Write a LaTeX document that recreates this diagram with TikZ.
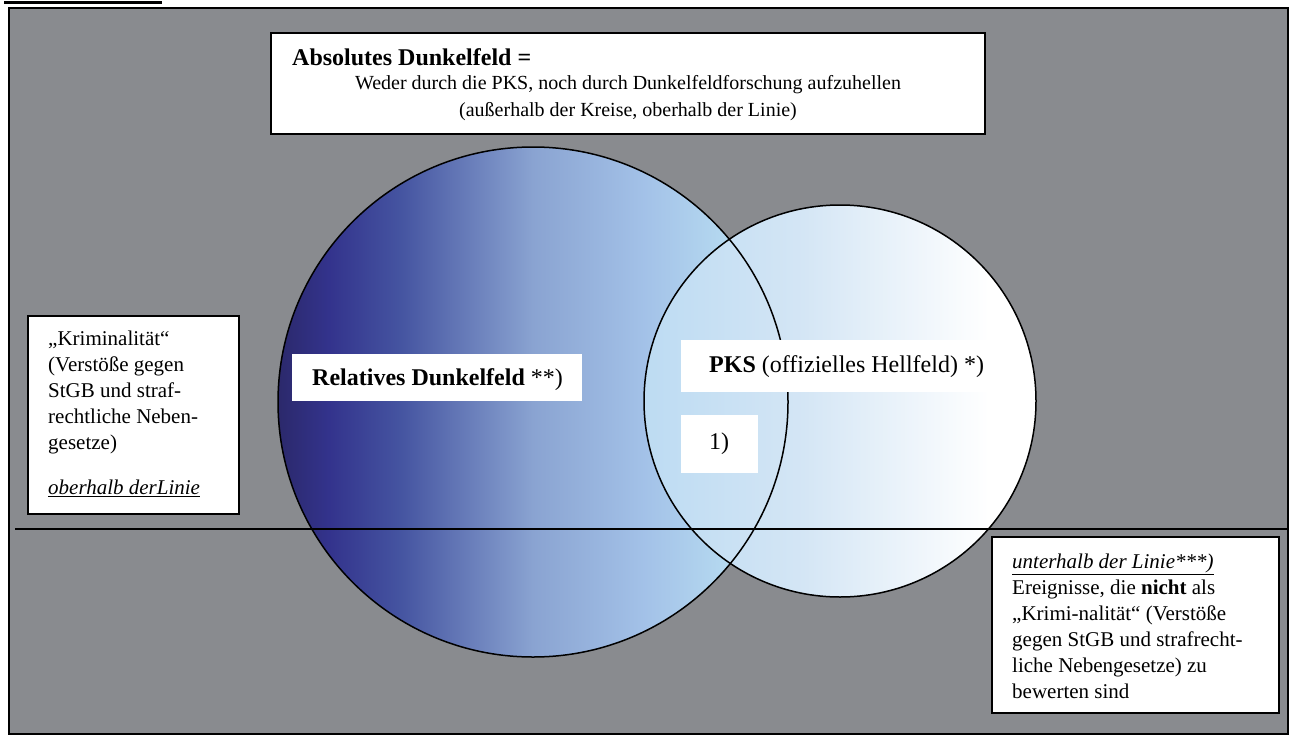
\documentclass[tikz,border=0pt]{standalone}
\usepackage{fontspec}
\setmainfont{Liberation Serif}
\usetikzlibrary{positioning}
\definecolor{feldgrau}{RGB}{137,139,143}
\pgfdeclarehorizontalshading{dunkelfeld}{100bp}{rgb(0bp)=(0.17,0.16,0.42); rgb(25bp)=(0.17,0.16,0.42); rgb(30bp)=(0.20,0.20,0.55); rgb(37bp)=(0.27,0.33,0.63); rgb(50bp)=(0.54,0.64,0.82); rgb(61bp)=(0.64,0.76,0.91); rgb(69bp)=(0.71,0.85,0.94); rgb(75bp)=(0.74,0.87,0.95); rgb(100bp)=(0.74,0.87,0.95)}
\pgfdeclarehorizontalshading{hellfeld}{100bp}{rgb(0bp)=(0.74,0.86,0.95); rgb(25bp)=(0.74,0.86,0.95); rgb(45bp)=(0.83,0.90,0.96); rgb(69bp)=(1,1,1); rgb(100bp)=(1,1,1)}

\begin{document}
\begin{tikzpicture}[x=1pt,y=-1pt,
    rahmen/.style={draw=black,line width=1.6pt},
    infobox/.style={draw=black,line width=1.6pt,fill=white,anchor=north west,inner sep=0pt,outer sep=0pt},
    labelbox/.style={fill=white,anchor=north west,inner sep=0pt,outer sep=0pt},
    boxtext/.style={anchor=north west,inner sep=0pt,align=left,font=\fontsize{21}{26}\selectfont},
    kreistext/.style={anchor=base west,inner sep=0pt,font=\fontsize{24}{28}\selectfont}]
    \useasboundingbox (0,0) rectangle (1290,736);

    % Rahmen
    \draw[line width=3pt] (4,2) -- (162,2);
    \draw[rahmen,fill=feldgrau] (9,8) rectangle (1288,734);

    % Kreise
    \shade[shading=dunkelfeld] (533,402) circle[radius=255pt];
    \shade[shading=hellfeld] (840,401) circle[radius=196pt];
    \draw[line width=1.5pt] (533,402) circle[radius=255pt];
    \draw[line width=1.5pt] (840,401) circle[radius=196pt];

    % Linie
    \draw[line width=1.5pt] (15,529) -- (1288,529);

    % Absolutes Dunkelfeld
    \node[infobox,minimum width=714,minimum height=101] (absolutbox) at (271,33) {};
    \node[anchor=base west,inner sep=0pt,font=\fontsize{24}{28}\selectfont\bfseries] (absoluttitel) at (292,65) {Absolutes Dunkelfeld =};
    \node[anchor=base,inner sep=0pt,font=\fontsize{20}{26}\selectfont] (absoluttext) at (628,89) {Weder durch die PKS, noch durch Dunkelfeldforschung aufzuhellen};
    \node[anchor=base,inner sep=0pt,font=\fontsize{20}{26}\selectfont] (absolutlage) at (628,116) {(außerhalb der Kreise, oberhalb der Linie)};

    % Kriminalitaet
    \node[infobox,minimum width=211,minimum height=198] (krimbox) at (28,316) {};
    \node[boxtext] (krimtext) at (48,331) {„Kriminalität“\\(Verstöße gegen\\StGB und straf-\\rechtliche Neben-\\gesetze)\\[19pt]\underline{\textit{oberhalb derLinie}}};

    % Ereignisse
    \node[infobox,minimum width=287,minimum height=176] (ereignisbox) at (992,537) {};
    \node[boxtext] (ereignistext) at (1012,554) {\underline{\textit{unterhalb der Linie***)}}\\Ereignisse, die \textbf{nicht} als\\„Krimi-nalität“ (Verstöße\\gegen StGB und strafrecht-\\liche Nebengesetze) zu\\bewerten sind};

    % Beschriftungen der Kreise
    \node[labelbox,minimum width=290,minimum height=47] (relbox) at (292,354) {};
    \node[kreistext] (reltext) at (312,385) {\textbf{Relatives Dunkelfeld} **)};
    \node[labelbox,minimum width=324,minimum height=52] (pksbox) at (681,340) {};
    \node[kreistext] (pkstext) at (709,372) {\textbf{PKS} (offizielles Hellfeld) *)};
    \node[labelbox,minimum width=77,minimum height=58] (einsbox) at (681,415) {};
    \node[kreistext] (einstext) at (709,449) {1)};
\end{tikzpicture}
\end{document}
